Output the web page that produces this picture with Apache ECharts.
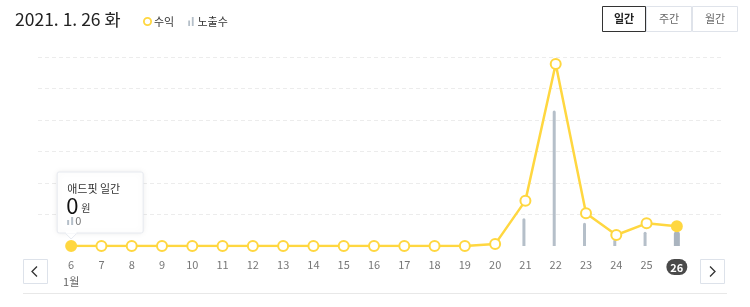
<!DOCTYPE html>
<html><head><meta charset="utf-8">
<script src="https://cdn.jsdelivr.net/npm/echarts@6/dist/echarts.min.js"></script>
<style>html,body{margin:0;padding:0;background:#fff}#c{width:750px;height:307px}</style>
</head><body><div id="c"></div>
<script>
const days = ['6','7','8','9','10','11','12','13','14','15','16','17','18','19','20','21','22','23','24','25','26'];
const monthLabel = '1월';
const revenue = [0,0,0,0,0,0,0,0,0,0,0,0,0,0,0.06,1.44,5.78,1.04,0.35,0.72,0.63];
const impressions = [0,0,0,0,0,0,0,0,0,0,0,0,0,0,0,0.88,4.3,0.74,0.21,0.45,0.45];
const titleText = '2021. 1. 26 화';
const tabs = ['일간','주간','월간'];
const FONT = '"Noto Sans CJK KR","Noto Sans",sans-serif';
const Y = '#ffd740';
const last = days.length - 1;

const lineData = revenue.map((v,i)=> (i===0||i===last) ? {value:v, symbol:'circle', itemStyle:{color:Y, borderColor:Y}} : v);
const barThin = impressions.map((v,i)=> i===last ? '-' : (v===0?'-':v));
const barWide = impressions.map((v,i)=> i===last ? v : '-');

const chart = echarts.init(document.getElementById('c'), null, {renderer:'canvas'});
const option = {
  animation:false,
  textStyle:{fontFamily:FONT},
  title:{text:titleText, left:10, top:6, textStyle:{fontSize:17.5, fontWeight:'normal', color:'#222', fontFamily:FONT}},
  legend:{left:138, top:11, itemWidth:9, itemHeight:9, itemGap:14,
    textStyle:{fontSize:11, color:'#333', fontFamily:FONT, padding:[0,0,0,-3]},
    data:[{name:'수익', icon:'path://M5,0A5,5,0,1,1,4.99,0ZM5,2A3,3,0,1,0,5.01,2Z', itemStyle:{color:Y, borderWidth:0}},
          {name:'노출수', icon:'path://M0,4h2v6h-2z M4,0h2v10h-2z', itemStyle:{color:'#b5bfc9', borderWidth:0}}]},
  grid:[{left:38, right:26, top:57, bottom:61},{left:56, right:58, top:57, bottom:61}],
  xAxis:[
    {gridIndex:0, type:'category', data:days, show:false},
    {gridIndex:1, type:'category', data:days, axisLine:{show:false}, axisTick:{show:false},
     axisLabel:{margin:13, fontSize:11, color:'#777', fontFamily:FONT, interval:0,
       formatter:(v,i)=> i===last ? '{sel|'+v+'}' : (i===0 ? v+'\n{m|'+monthLabel+'}' : v),
       rich:{sel:{backgroundColor:'#4a4a4a', color:'#fff', borderRadius:8, padding:[3,4,2,4], fontSize:11, fontWeight:'bold'},
             m:{fontSize:11, color:'#666', lineHeight:20, padding:[4,0,0,0]}}}}
  ],
  yAxis:[
    {gridIndex:0, type:'value', min:0, max:6, interval:1, axisLabel:{show:false}, axisLine:{show:false}, axisTick:{show:false},
     splitLine:{show:true, showMinLine:false, lineStyle:{type:[4,3], color:'#ececec', width:1}}},
    {gridIndex:1, type:'value', min:0, max:6, interval:1, show:false, splitLine:{show:false}}
  ],
  series:[
    {name:'노출수', type:'bar', xAxisIndex:1, yAxisIndex:1, data:barThin, barWidth:3, barGap:'-100%',
     itemStyle:{color:'#b5bfc9', borderRadius:[1.5,1.5,0,0]}, z:2},
    {name:'노출수', type:'bar', xAxisIndex:1, yAxisIndex:1, data:barWide, barWidth:6,
     itemStyle:{color:'#aab4bf', borderRadius:[2,2,0,0]}, z:2},
    {name:'수익', type:'line', xAxisIndex:1, yAxisIndex:1, data:lineData, symbol:'emptyCircle', symbolSize:10,
     lineStyle:{color:Y, width:2.5}, itemStyle:{color:Y, borderColor:Y, borderWidth:2}, z:5}
  ]
};
chart.setOption(option);

const p = chart.convertToPixel({xAxisIndex:1, yAxisIndex:1}, [0, revenue[0]]);
const bx = p[0]-14, by = p[1]-74;
const g = [];
g.push({type:'rect', shape:{x:bx, y:by, width:86, height:61, r:2}, style:{fill:'#fff', stroke:'#e6e9ef', lineWidth:1, shadowBlur:6, shadowColor:'rgba(0,0,0,0.08)'}, z:10});
g.push({type:'polygon', shape:{points:[[p[0]-6,by+61],[p[0]+6,by+61],[p[0],by+67]]}, style:{fill:'#fff', stroke:'#e6e9ef'}, z:10});
g.push({type:'rect', shape:{x:p[0]-5.5, y:by+59, width:11, height:2.5}, style:{fill:'#fff'}, z:11});
g.push({type:'text', x:bx+10, y:by+11, style:{text:'애드핏 일간', fontSize:11, fill:'#333', fontFamily:FONT}, z:12});
g.push({type:'text', x:bx+9, y:by+23, style:{text:String(revenue[0]), fontSize:22, fill:'#111', fontFamily:FONT}, z:12});
g.push({type:'text', x:bx+24, y:by+31, style:{text:'원', fontSize:10, fill:'#333', fontFamily:FONT}, z:12});
g.push({type:'rect', shape:{x:bx+10, y:by+48, width:2, height:5}, style:{fill:'#b5bfc9'}, z:12});
g.push({type:'rect', shape:{x:bx+14, y:by+45, width:2, height:8}, style:{fill:'#b5bfc9'}, z:12});
g.push({type:'text', x:bx+18, y:by+43, style:{text:String(impressions[0]), fontSize:11, fill:'#777', fontFamily:FONT}, z:12});
const tabX = [602,646,692,738];
tabs.forEach((t,i)=>{
  g.push({type:'rect', shape:{x:tabX[i]+0.5, y:6.5, width:tabX[i+1]-tabX[i]-1, height:25}, style:{fill:'#fff', stroke: i===0?'#333':'#dfe3ea', lineWidth:1}, z: i===0?3:2});
  g.push({type:'text', x:(tabX[i]+tabX[i+1])/2, y:19, style:{text:t, fontSize:11, fill: i===0?'#222':'#666', fontWeight: i===0?'bold':'normal', align:'center', verticalAlign:'middle', fontFamily:FONT}, z:4});
});
[[23,'<'],[700,'>']].forEach(a=>{
  g.push({type:'rect', shape:{x:a[0]+0.5, y:259.5, width:24, height:24}, style:{fill:'#fff', stroke:'#dde2ea', lineWidth:1}});
  const cx=a[0]+12, cy=271.5;
  const pts = a[1]==='<' ? [[cx+2,cy-5],[cx-3,cy],[cx+2,cy+5]] : [[cx-2,cy-5],[cx+3,cy],[cx-2,cy+5]];
  g.push({type:'polyline', shape:{points:pts}, style:{stroke:'#333', lineWidth:1.3, fill:null}});
});
g.push({type:'line', shape:{x1:23, y1:293.5, x2:727, y2:293.5}, style:{stroke:'#e8e8e8', lineWidth:1}});
chart.setOption({graphic:g});
</script></body></html>
